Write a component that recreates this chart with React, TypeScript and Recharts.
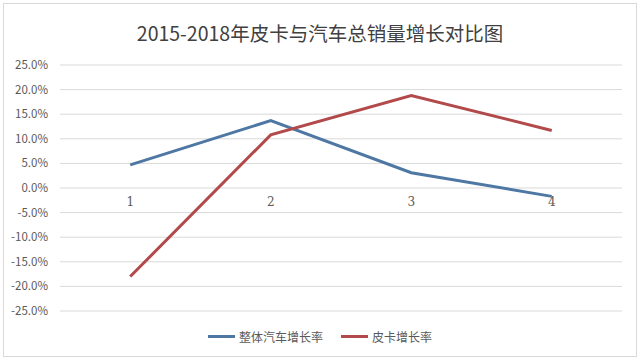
import React from "react";
import {
  CartesianGrid,
  LabelList,
  Legend,
  Line,
  LineChart,
  XAxis,
  YAxis,
} from "recharts";

const CATEGORIES = ["1", "2", "3", "4"];
const CAR_GROWTH = [4.7, 13.7, 3.1, -1.7];
const PICKUP_GROWTH = [-18.0, 10.8, 18.8, 11.7];
const Y_TICKS = [-25, -20, -15, -10, -5, 0, 5, 10, 15, 20, 25];

const CAR_NAME = "整体汽车增长率";
const PICKUP_NAME = "皮卡增长率";
const TITLE = "2015-2018年皮卡与汽车总销量增长对比图";

const BLUE = "#4e78a3";
const RED = "#b24a4c";
const TEXT = "#595959";
const FONT = "'Noto Sans CJK SC', 'Noto Sans', sans-serif";

const WIDTH = 640;
const HEIGHT = 362;
const MARGIN = { top: 65, right: 18, bottom: 51, left: 0 };
const Y_AXIS_WIDTH = 60;
// half a category band on each side, like Excel's "between tick marks" axis
const BAND_PAD = (WIDTH - MARGIN.left - MARGIN.right - Y_AXIS_WIDTH) / CATEGORIES.length / 2;

const data = CATEGORIES.map((c, i) => ({
  cat: c,
  car: CAR_GROWTH[i],
  pickup: PICKUP_GROWTH[i],
  axis: 0,
}));

function LegendContent({ payload }: any) {
  const items = (payload || []).filter((p: any) => p.dataKey !== "axis");
  return (
    <div style={{ display: "flex", justifyContent: "center", gap: 18, fontFamily: FONT, fontSize: 12, color: TEXT }}>
      {items.map((p: any) => (
        <div key={p.dataKey} style={{ display: "flex", alignItems: "center" }}>
          <span style={{ display: "inline-block", width: 27, height: 3, background: p.color, marginRight: 4 }} />
          <span>{p.value}</span>
        </div>
      ))}
    </div>
  );
}

export default function App() {
  return (
    <div style={{ position: "relative", width: WIDTH, height: HEIGHT, background: "#fff" }}>
      <style>{"body{margin:0;background:#fff}"}</style>
      <div
        style={{
          position: "absolute",
          left: 3,
          top: 3,
          width: 632,
          height: 352,
          border: "1px solid #d9d9d9",
        }}
      />
      <div
        style={{
          position: "absolute",
          top: 19,
          width: WIDTH,
          textAlign: "center",
          fontFamily: FONT,
          fontSize: 19.5,
          color: "#404040",
          lineHeight: "28px",
        }}
      >
        {TITLE}
      </div>
      <div style={{ position: "absolute", left: 0, top: 0 }}>
        <LineChart width={WIDTH} height={HEIGHT} data={data} margin={MARGIN}>
          <CartesianGrid horizontal vertical={false} stroke="#d9d9d9" />
          <XAxis dataKey="cat" hide padding={{ left: BAND_PAD, right: BAND_PAD }} />
          <YAxis
            width={Y_AXIS_WIDTH}
            domain={[-25, 25]}
            ticks={Y_TICKS}
            tickFormatter={(v: number) => `${v.toFixed(1)}%`}
            tickLine={false}
            axisLine={false}
            tickMargin={6}
            tick={{ fontSize: 11.5, fill: TEXT, fontFamily: FONT }}
          />
          <Legend
            verticalAlign="middle"
            align="center"
            layout="horizontal"
            wrapperStyle={{ top: 328, left: 0, width: WIDTH }}
            content={<LegendContent />}
          />
          <Line
            dataKey="axis"
            stroke="none"
            dot={false}
            legendType="none"
            isAnimationActive={false}
          >
            <LabelList
              dataKey="cat"
              position="bottom"
              offset={9}
              style={{ fontSize: 12, fill: TEXT, fontFamily: "'DejaVu Serif', serif" }}
            />
          </Line>
          <Line
            type="linear"
            dataKey="car"
            name={CAR_NAME}
            stroke={BLUE}
            strokeWidth={3}
            dot={false}
            isAnimationActive={false}
          />
          <Line
            type="linear"
            dataKey="pickup"
            name={PICKUP_NAME}
            stroke={RED}
            strokeWidth={3}
            dot={false}
            isAnimationActive={false}
          />
        </LineChart>
      </div>
    </div>
  );
}
